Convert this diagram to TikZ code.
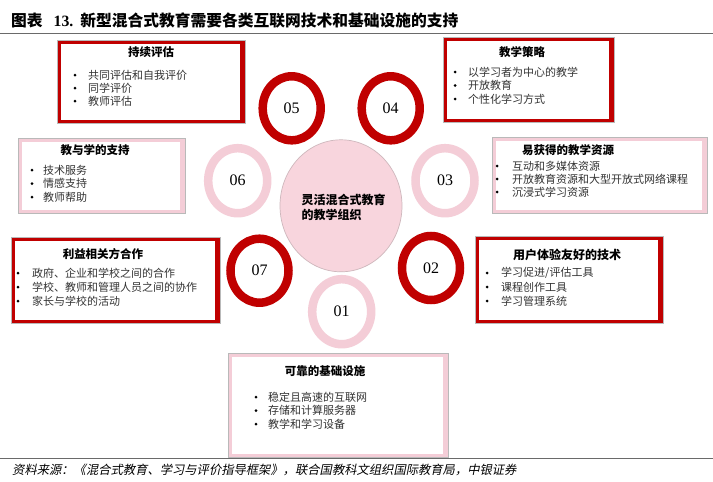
\documentclass[tikz,border=0pt]{standalone}
\usepackage{fontspec}
\usetikzlibrary{shapes.geometric,calc}
\setmainfont{Noto Sans CJK SC}
\newfontfamily\numfont{Liberation Serif}
\newfontfamily\srcfont{Noto Sans CJK SC}[FakeSlant=0.2]
\definecolor{hred}{HTML}{C00000}
\definecolor{hpink}{HTML}{F4CDD7}
\definecolor{cpink}{HTML}{F8D5DD}
\definecolor{rulegray}{HTML}{6A6A6A}
\definecolor{txtgray}{HTML}{333333}
\tikzset{
  boxtitle/.style={font=\fontsize{11.5}{13}\selectfont\bfseries, inner sep=0pt, anchor=center},
  itm/.style={font=\fontsize{11}{13}\selectfont, text=txtgray, inner sep=0pt, anchor=west},
  bul/.style={circle, fill=black, inner sep=0pt, minimum size=3pt},
  redring/.style={ellipse, draw=hred, line width=8.5pt, fill=white, inner sep=0pt,
    minimum width=58pt, minimum height=64pt, font=\numfont\fontsize{16}{16}\selectfont},
  pinkring/.style={ellipse, draw=hpink, line width=8.5pt, fill=white, inner sep=0pt,
    minimum width=59pt, minimum height=65pt, font=\numfont\fontsize{16}{16}\selectfont},
  rulestyle/.style={rulegray, line width=1.5pt},
}
\newcommand\panelbox[6]{%
  \fill[#2] (#3,#4) rectangle (#5,#6);
  \draw[gray!55, line width=0.5pt] (#3,#4) rectangle (#5,#6);
  \fill[white] (#3+3.5,#4+3.5) rectangle (#5-5,#6-3.5);
  \coordinate (#1) at ($(#3,#4)!0.5!(#5,#6)$);
}
\newcommand\itemlist[6]{%
  \foreach \t [count=\i] in {#6} {
    \node[bul] (#1b\i) at (#2,{#4+#5*(\i-1)}) {};
    \node[itm] (#1t\i) at (#3,{#4+#5*(\i-1)}) {\t};
  }%
}
\begin{document}
\begin{tikzpicture}[x=1pt,y=-1pt]
\useasboundingbox (0,0) rectangle (713,482);
\fill[white] (0,0) rectangle (713,482);

% title and rules
\node[anchor=west, inner sep=0pt, font=\fontsize{15.75}{16}\selectfont\bfseries] (title) at (11,20)
  {图表\hspace{11pt}{\numfont\bfseries 13.}\hspace{7pt}新型混合式教育需要各类互联网技术和基础设施的支持};
\coordinate (rl1) at (0,33.5); \coordinate (rr1) at (713,33.5);
\draw[rulestyle] (rl1) -- (rr1);
\coordinate (rl2) at (0,458.5); \coordinate (rr2) at (713,458.5);

% boxes
\panelbox{box1}{hred}{57}{40}{245}{123}
\panelbox{box2}{hred}{443}{37}{614}{122}
\panelbox{box3}{hpink}{18}{138}{185}{213}
\panelbox{box4}{hpink}{492}{137}{707}{213}
\panelbox{box5}{hred}{11}{237}{220}{323}
\panelbox{box6}{hred}{475}{236}{663}{323}
\panelbox{box7}{hpink}{228}{353}{448}{457}
\draw[rulestyle] (rl2) -- (rr2);

% box titles
\node[boxtitle] (h1) at (151,52) {持续评估};
\node[boxtitle] (h2) at (522,52) {教学策略};
\node[boxtitle] (h3) at (95,150) {教与学的支持};
\node[boxtitle] (h4) at (568,150) {易获得的教学资源};
\node[boxtitle] (h5) at (103,254) {利益相关方合作};
\node[boxtitle, font=\fontsize{12}{13}\selectfont\bfseries] (h6) at (567,255) {用户体验友好的技术};
\node[boxtitle] (h7) at (325,371) {可靠的基础设施};

% lists
\itemlist{l1}{75}{88}{75}{13}{共同评估和自我评价,同学评价,教师评估}
\itemlist{l2}{455}{468}{72}{13.5}{以学习者为中心的教学,开放教育,个性化学习方式}
\itemlist{l3}{32}{43}{170}{13.5}{技术服务,情感支持,教师帮助}
\itemlist{l4}{497}{512}{166}{13}{互动和多媒体资源,开放教育资源和大型开放式网络课程,沉浸式学习资源}
\itemlist{l5}{18}{32}{273}{14}{政府、企业和学校之间的合作,学校、教师和管理人员之间的协作,家长与学校的活动}
\itemlist{l6}{487}{501}{273}{14}{学习促进/评估工具,课程创作工具,学习管理系统}
\itemlist{l7}{256}{268}{397}{13.5}{稳定且高速的互联网,存储和计算服务器,教学和学习设备}

% centre
\node[ellipse, fill=cpink, draw=gray!35!cpink, line width=0.7pt, minimum width=122pt, minimum height=132pt, inner sep=0pt] (ctr) at (341,205.8) {};
\node[align=left, inner sep=0pt, font=\fontsize{12}{15}\selectfont\bfseries] (ctrtxt) at (343.7,207.5) {灵活混合式教育\\的教学组织};

% rings
\node[redring] (c05) at (291.7,108.3) {05};
\node[redring] (c04) at (390.7,108.3) {04};
\node[pinkring] (c06) at (237.7,180.7) {06};
\node[pinkring] (c03) at (445,180.7) {03};
\node[redring] (c07) at (259.5,270.7) {07};
\node[redring] (c02) at (431,268) {02};
\node[pinkring] (c01) at (341.7,311.7) {01};

% source
\node[anchor=west, inner sep=0pt, font=\srcfont\fontsize{12.3}{13}\selectfont] (src) at (12,470)
  {资料来源：《混合式教育、学习与评价指导框架》，联合国教科文组织国际教育局，中银证券};
\end{tikzpicture}
\end{document}
